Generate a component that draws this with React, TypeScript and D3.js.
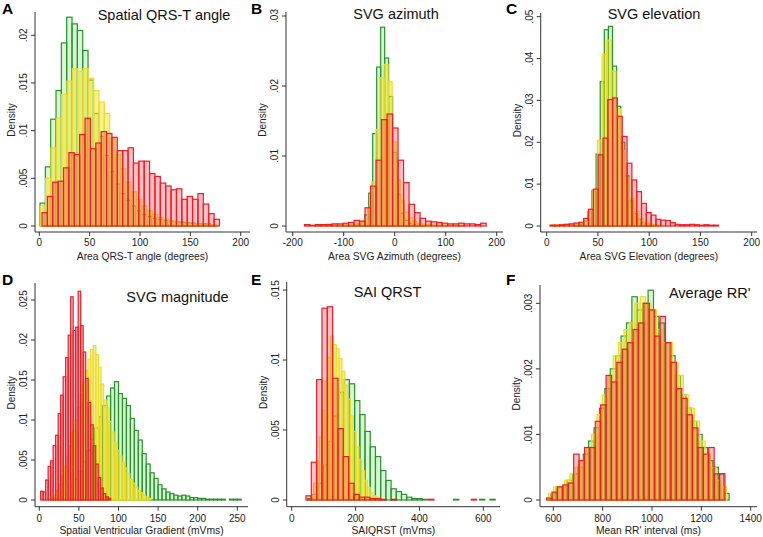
import React from 'react';
import * as d3 from 'd3';

// Histogram densities. Each series: first bin edge, bin width, densities.
// A: spatial QRS-T angle
const angleGreenBins = [0.7, 5.3];
const angleGreen = [0.0024, 0.0062, 0.0112, 0.0142, 0.0192, 0.0219, 0.0212, 0.0205, 0.0184, 0.0153, 0.0118, 0.0094, 0.0074, 0.0057, 0.0044, 0.0034, 0.0027, 0.0021, 0.0016, 0.0012, 0.001, 0.0008, 0.0007, 0.0006, 0.0005, 0.0004, 0.0004, 0.0003, 0.0003, 0.0002, 0.0002, 0.0002, 0.0001];
const angleYellowBins = [1.0, 5.3];
const angleYellow = [0.0021, 0.005, 0.0082, 0.0113, 0.0138, 0.0152, 0.0165, 0.0162, 0.0165, 0.0155, 0.0142, 0.013, 0.0118, 0.0092, 0.0075, 0.006, 0.0046, 0.0036, 0.0028, 0.0021, 0.0016, 0.0012, 0.0009, 0.0007, 0.0005, 0.0004, 0.0003, 0.0003, 0.0002, 0.0002, 0.0001, 0.0001, 0.0001];
const angleRedBins = [2.7, 5.34];
const angleRed = [0.0014, 0.0031, 0.0046, 0.0047, 0.0061, 0.0077, 0.0075, 0.0096, 0.0113, 0.0081, 0.0087, 0.0099, 0.0097, 0.0093, 0.0079, 0.0079, 0.0082, 0.0066, 0.0068, 0.0068, 0.0055, 0.0052, 0.0045, 0.0042, 0.0038, 0.0039, 0.0028, 0.0031, 0.0028, 0.0034, 0.0023, 0.0013, 0.0007];

// B: SVG azimuth
const azimuthGreenBins = [-97.7, 7.8];
const azimuthGreen = [0.0001, 0.0001, 0.0002, 0.0003, 0.0006, 0.0016, 0.0047, 0.0132, 0.0227, 0.0284, 0.024, 0.0185, 0.0105, 0.0045, 0.0018, 0.0008, 0.0004, 0.0002, 0.0001, 0.0001];
const azimuthYellowBins = [-157, 8];
const azimuthYellow = [0.0001, 0.0002, 0.0001, 0.0003, 0.0002, 0.0001, 0.0002, 0.0002, 0.0002, 0.0002, 0.0003, 0.0005, 0.001, 0.0025, 0.0063, 0.0138, 0.0212, 0.0231, 0.0206, 0.012, 0.0066, 0.0036, 0.002, 0.0012, 0.0007, 0.0004, 0.0003, 0.0002, 0.0002, 0.0001, 0.0001, 0.0001, 0.0001, 0.0001, 0.0001, 0.0001, 0.0001];
const azimuthRedBins = [-177, 10.8];
const azimuthRed = [0.0002, 0.0001, 0.0002, 0.0002, 0.0002, 0.0003, 0.0003, 0.0004, 0.0005, 0.0008, 0.0007, 0.0026, 0.0057, 0.0094, 0.0152, 0.016, 0.014, 0.0094, 0.0062, 0.0031, 0.0019, 0.0011, 0.0007, 0.0006, 0.0005, 0.0004, 0.0003, 0.0003, 0.0004, 0.0003, 0.0003, 0.0002, 0.0004];

// C: SVG elevation
const elevationGreenBins = [28.2, 4];
const elevationGreen = [0.0002, 0.0004, 0.0012, 0.0035, 0.0085, 0.0172, 0.0345, 0.0469, 0.0477, 0.0382, 0.0286, 0.02, 0.012, 0.006, 0.003, 0.0015, 0.0008, 0.0004, 0.0002];
const elevationYellowBins = [4.5, 4.5];
const elevationYellow = [0.0003, 0.0003, 0.0002, 0.0004, 0.0004, 0.0005, 0.0008, 0.0012, 0.0035, 0.0085, 0.0205, 0.041, 0.0444, 0.037, 0.028, 0.018, 0.0115, 0.0065, 0.0035, 0.0018, 0.0009, 0.0005, 0.0003, 0.0002];
const elevationRedBins = [3.2, 4.7];
const elevationRed = [0.0002, 0.0002, 0.0003, 0.0004, 0.0005, 0.0007, 0.0009, 0.0018, 0.004, 0.0088, 0.017, 0.021, 0.0302, 0.0306, 0.0262, 0.0214, 0.015, 0.011, 0.0082, 0.0054, 0.0032, 0.0026, 0.0016, 0.0014, 0.0013, 0.0008, 0.0004, 0.0003, 0.0003, 0.0004, 0.0003, 0.0002, 0.0003, 0.0002, 0.0002];

// D: SVG magnitude
const magnitudeGreenBins = [5, 5];
const magnitudeGreen = [0, 0, 0.0001, 0.0002, 0.0004, 0.0007, 0.0012, 0.0018, 0.0026, 0.0036, 0.0048, 0.0062, 0.0076, 0.009, 0.0104, 0.0118, 0.013, 0.014, 0.0148, 0.0133, 0.0127, 0.0118, 0.0102, 0.0087, 0.0075, 0.0058, 0.0045, 0.0034, 0.0027, 0.0019, 0.0014, 0.001, 0.0008, 0.0006, 0.0005, 0.0006, 0.0005, 0.0003, 0.0003, 0.0002, 0.0002, 0.0001, 0.0001, 0.0001, 0.0001, 0.0001, 0, 0.0001, 0.0001, 0.0001];
const magnitudeYellowBins = [12, 3.3];
const magnitudeYellow = [0.0001, 0.0003, 0.0006, 0.0012, 0.002, 0.003, 0.0042, 0.0055, 0.0068, 0.0085, 0.01, 0.0116, 0.0132, 0.0148, 0.0162, 0.0176, 0.0188, 0.0193, 0.0182, 0.0166, 0.0145, 0.0125, 0.0115, 0.0098, 0.0085, 0.0072, 0.0062, 0.0055, 0.0047, 0.004, 0.0033, 0.0026, 0.0021, 0.0016, 0.0012, 0.0009, 0.0006, 0.0004, 0.0002];
const magnitudeRedBins = [1.7, 3.16];
const magnitudeRed = [0.0011, 0.001, 0.0025, 0.0042, 0.0049, 0.0068, 0.0081, 0.0108, 0.0131, 0.0154, 0.0178, 0.0206, 0.0254, 0.0212, 0.0216, 0.0261, 0.0218, 0.0185, 0.0152, 0.0122, 0.0094, 0.0068, 0.0045, 0.0028, 0.0015, 0.0008, 0.0004, 0.0002];

// E: SAI QRST
const saiGreenBins = [50.4, 16.3];
const saiGreen = [0.0001, 0.0004, 0.0012, 0.0025, 0.0042, 0.006, 0.0077, 0.0086, 0.0083, 0.0071, 0.0061, 0.0049, 0.0038, 0.0031, 0.0021, 0.0014, 0.0008, 0.0006, 0.0004, 0.0002, 0.0001, 0.0001, 0.00005, 0, 0, 0, 0, 0, 0.00005, 0, 0, 0, 0, 0.00005, 0, 0.00005];
const saiYellowBins = [60, 8.85];
const saiYellow = [0.0003, 0.0012, 0.0028, 0.0045, 0.0064, 0.0085, 0.0102, 0.0117, 0.0111, 0.0108, 0.0101, 0.0092, 0.0082, 0.0072, 0.006, 0.0049, 0.0038, 0.0029, 0.0021, 0.0014, 0.0009, 0.0005, 0.0003, 0.0002, 0.0001];
const saiRedBins = [44.7, 16.7];
const saiRed = [0.0003, 0.0027, 0.0086, 0.0137, 0.0138, 0.0087, 0.0051, 0.0031, 0.0012, 0.0004, 0.0002, 0.0002, 0.0001, 0.0001, 0.00005, 0, 0.00005, 0, 0, 0, 0, 0, 0, 0.00005, 0, 0, 0, 0, 0, 0, 0, 0.00005];

// F: average RR'
const rrGreenBins = [590, 21.9];
const rrGreen = [0.0001, 0.0002, 0.0002, 0.0003, 0.0004, 0.0005, 0.0007, 0.0009, 0.0011, 0.0014, 0.0017, 0.002, 0.0022, 0.0025, 0.0027, 0.0031, 0.0029, 0.003, 0.0032, 0.0028, 0.0027, 0.0024, 0.0022, 0.0019, 0.0016, 0.0014, 0.0012, 0.001, 0.0008, 0.0006, 0.0005, 0.0004, 0.0001];
const rrYellowBins = [580, 21.9];
const rrYellow = [0.0001, 0.0002, 0.0002, 0.0003, 0.0004, 0.0005, 0.0006, 0.0008, 0.001, 0.0013, 0.0016, 0.0019, 0.0022, 0.0024, 0.0026, 0.0027, 0.003, 0.0031, 0.003, 0.0029, 0.0026, 0.0024, 0.0024, 0.0021, 0.0019, 0.0016, 0.0014, 0.0012, 0.0009, 0.0007, 0.0005, 0.0003, 0.0002];
const rrRedBins = [573, 21.9];
const rrRed = [0.00003, 0.00012, 0.0002, 0.00023, 0.00026, 0.0007, 0.0006, 0.0008, 0.0008, 0.0012, 0.00145, 0.0019, 0.0018, 0.0021, 0.0023, 0.0024, 0.0026, 0.0027, 0.003, 0.0029, 0.0025, 0.0028, 0.0024, 0.0021, 0.0017, 0.00155, 0.0013, 0.0011, 0.0008, 0.0007, 0.0008, 0.0004, 0.0004];

const palette = {
  green: { stroke: '#2a922a', fill: 'rgba(120, 230, 120, 0.3)' },
  yellow: { stroke: '#ecdc2a', fill: 'rgba(240, 226, 40, 0.5)' },
  red: { stroke: '#ec1c24', fill: 'rgba(255, 60, 80, 0.33)' },
};

type Kind = keyof typeof palette;
interface Series { kind: Kind; bins: number[]; values: number[] }

interface PanelSpec {
  letter: string; letterX: number; letterY: number;
  title: string; titleX: number; titleY: number;
  xLabel: string;
  axisX: number; axisTop: number; axisY: number; axisRight: number;
  xDomain: [number, number]; xRange: [number, number]; xTicks: number[];
  yDomain: [number, number]; yRange: [number, number]; yTicks: number[];
  tickY: number; labelY: number;
  series: Series[];
}

const font = '"Liberation Sans", Arial, sans-serif';
const fmtY = (v: number) => (v === 0 ? '0' : String(v).replace(/^0/, ''));

const panels: PanelSpec[] = [
  {
    letter: 'A', letterX: 2, letterY: 14, title: 'Spatial QRS-T angle', titleX: 164, titleY: 20,
    xLabel: 'Area QRS-T angle (degrees)', axisX: 35, axisTop: 12, axisY: 232, axisRight: 250,
    xDomain: [0, 200], xRange: [39.3, 240.7], xTicks: [0, 50, 100, 150, 200],
    yDomain: [0, 0.02], yRange: [226, 35.3], yTicks: [0, 0.005, 0.01, 0.015, 0.02],
    tickY: 246, labelY: 260,
    series: [
      { kind: 'green', bins: angleGreenBins, values: angleGreen },
      { kind: 'yellow', bins: angleYellowBins, values: angleYellow },
      { kind: 'red', bins: angleRedBins, values: angleRed },
    ],
  },
  {
    letter: 'B', letterX: 251, letterY: 14, title: 'SVG azimuth', titleX: 396, titleY: 19,
    xLabel: 'Area SVG Azimuth (degrees)', axisX: 286, axisTop: 12, axisY: 232, axisRight: 503,
    xDomain: [-200, 200], xRange: [292.7, 496.7], xTicks: [-200, -100, 0, 100, 200],
    yDomain: [0, 0.03], yRange: [226, 16], yTicks: [0, 0.01, 0.02, 0.03],
    tickY: 246, labelY: 260,
    series: [
      { kind: 'green', bins: azimuthGreenBins, values: azimuthGreen },
      { kind: 'yellow', bins: azimuthYellowBins, values: azimuthYellow },
      { kind: 'red', bins: azimuthRedBins, values: azimuthRed },
    ],
  },
  {
    letter: 'C', letterX: 506, letterY: 14, title: 'SVG elevation', titleX: 654, titleY: 19,
    xLabel: 'Area SVG Elevation (degrees)', axisX: 540.7, axisTop: 13, axisY: 232, axisRight: 757,
    xDomain: [0, 200], xRange: [546.7, 751.7], xTicks: [0, 50, 100, 150, 200],
    yDomain: [0, 0.05], yRange: [226, 16.7], yTicks: [0, 0.01, 0.02, 0.03, 0.04, 0.05],
    tickY: 246, labelY: 260,
    series: [
      { kind: 'green', bins: elevationGreenBins, values: elevationGreen },
      { kind: 'yellow', bins: elevationYellowBins, values: elevationYellow },
      { kind: 'red', bins: elevationRedBins, values: elevationRed },
    ],
  },
  {
    letter: 'D', letterX: 2, letterY: 285, title: 'SVG magnitude', titleX: 177.5, titleY: 302,
    xLabel: 'Spatial Ventricular Gradient (mVms)', axisX: 35, axisTop: 283, axisY: 506.7, axisRight: 248,
    xDomain: [0, 250], xRange: [39.3, 237.3], xTicks: [0, 50, 100, 150, 200, 250],
    yDomain: [0, 0.025], yRange: [500, 300], yTicks: [0, 0.005, 0.01, 0.015, 0.02, 0.025],
    tickY: 522, labelY: 534,
    series: [
      { kind: 'green', bins: magnitudeGreenBins, values: magnitudeGreen },
      { kind: 'yellow', bins: magnitudeYellowBins, values: magnitudeYellow },
      { kind: 'red', bins: magnitudeRedBins, values: magnitudeRed },
    ],
  },
  {
    letter: 'E', letterX: 251, letterY: 285, title: 'SAI QRST', titleX: 387.5, titleY: 297,
    xLabel: 'SAIQRST (mVms)', axisX: 286.7, axisTop: 282, axisY: 506.7, axisRight: 500,
    xDomain: [0, 600], xRange: [291.7, 483.3], xTicks: [0, 200, 400, 600],
    yDomain: [0, 0.015], yRange: [500, 290], yTicks: [0, 0.005, 0.01, 0.015],
    tickY: 522, labelY: 534,
    series: [
      { kind: 'green', bins: saiGreenBins, values: saiGreen },
      { kind: 'yellow', bins: saiYellowBins, values: saiYellow },
      { kind: 'red', bins: saiRedBins, values: saiRed },
    ],
  },
  {
    letter: 'F', letterX: 506, letterY: 285, title: "Average RR'", titleX: 709.7, titleY: 298,
    xLabel: "Mean RR' interval (ms)", axisX: 540, axisTop: 285, axisY: 506.7, axisRight: 757,
    xDomain: [600, 1400], xRange: [553.3, 750.7], xTicks: [600, 800, 1000, 1200, 1400],
    yDomain: [0, 0.003], yRange: [500, 303.3], yTicks: [0, 0.001, 0.002, 0.003],
    tickY: 522, labelY: 534,
    series: [
      { kind: 'green', bins: rrGreenBins, values: rrGreen },
      { kind: 'yellow', bins: rrYellowBins, values: rrYellow },
      { kind: 'red', bins: rrRedBins, values: rrRed },
    ],
  },
];

function Panel({ p }: { p: PanelSpec }) {
  const x = d3.scaleLinear().domain(p.xDomain).range(p.xRange);
  const y = d3.scaleLinear().domain(p.yDomain).range(p.yRange);
  const midY = (p.axisY + p.axisTop) / 2 - 2;

  return (
    <g fontFamily={font}>
      {p.series.map((s) => {
        const [start, width] = s.bins;
        const col = palette[s.kind];
        return (
          <g key={s.kind}>
            {s.values.map((v, i) => {
              if (v <= 0) return null;
              const x0 = x(start + i * width);
              const x1 = x(start + (i + 1) * width);
              return (
                <rect
                  key={i}
                  x={x0}
                  y={y(v)}
                  width={x1 - x0}
                  height={y(0) - y(v)}
                  fill={col.fill}
                  stroke={col.stroke}
                  strokeWidth={1.2}
                />
              );
            })}
          </g>
        );
      })}

      {/* axes */}
      <line x1={p.axisX} x2={p.axisX} y1={p.axisTop} y2={p.axisY} stroke="#333" strokeWidth={1} />
      <line x1={p.axisX} x2={p.axisRight} y1={p.axisY} y2={p.axisY} stroke="#333" strokeWidth={1} />
      {p.xTicks.map((t) => (
        <g key={'x' + t}>
          <line x1={x(t)} x2={x(t)} y1={p.axisY} y2={p.axisY + 4} stroke="#333" />
          <text x={x(t)} y={p.tickY} fontSize={10} textAnchor="middle" fill="#222">{t}</text>
        </g>
      ))}
      {p.yTicks.map((t) => (
        <g key={'y' + t}>
          <line x1={p.axisX - 4} x2={p.axisX} y1={y(t)} y2={y(t)} stroke="#333" />
          <text transform={`translate(${p.axisX - 8},${y(t)}) rotate(-90)`} fontSize={10} textAnchor="middle" fill="#222">
            {fmtY(t)}
          </text>
        </g>
      ))}
      <text transform={`translate(${p.axisX - 20},${midY}) rotate(-90)`} fontSize={10} textAnchor="middle" fill="#222">
        Density
      </text>
      <text x={(p.axisX + p.axisRight) / 2} y={p.labelY} fontSize={10.3} textAnchor="middle" fill="#222">
        {p.xLabel}
      </text>
      <text x={p.titleX} y={p.titleY} fontSize={14.5} textAnchor="middle" fill="#111">
        {p.title}
      </text>
      <text x={p.letterX} y={p.letterY} fontSize={15.5} fontWeight="bold" fill="#000">
        {p.letter}
      </text>
    </g>
  );
}

export default function App() {
  return (
    <svg
      width={763}
      height={537}
      viewBox="0 0 763 537"
      style={{ position: 'absolute', left: 0, top: 0, background: '#fff' }}
    >
      {panels.map((p) => (
        <Panel key={p.letter} p={p} />
      ))}
    </svg>
  );
}
